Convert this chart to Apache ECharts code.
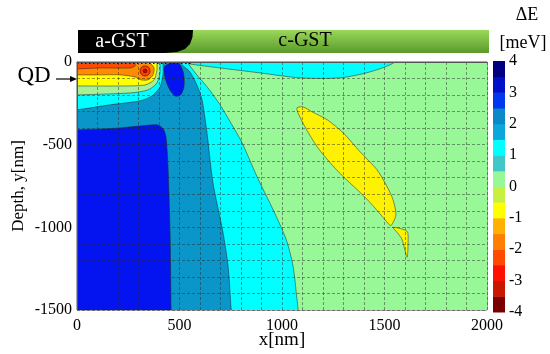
<!DOCTYPE html>
<html>
<head>
<meta charset="utf-8">
<script src="https://cdn.jsdelivr.net/npm/echarts@6/dist/echarts.min.js"></script>
<style>
  html, body { margin: 0; background: #fff; }
  #chart { width: 550px; height: 354px; }
</style>
</head>
<body>
<div id="chart"></div>
<script>
// contour regions, in nm (x, depth y); drawn back to front
const bgGreen = [[-100, 100], [2100, 100], [2100, -1600], [-100, -1600]];
const cyanMain = [[-100, 100], [1600, 100], [1551, 0], [1429, -60], [1283, -96], [1088, -96], [893, -66],
  [698, -36], [551, -12], [540, -4], [585, -78], [639, -157], [698, -259], [756, -380], [805, -488],
  [878, -693], [956, -892], [1020, -1072], [1054, -1235], [1073, -1434], [1078, -1494], [1080, -1600], [-100, -1600]];
const tealMain = [[-100, 100], [502, 100], [502, 0], [551, -60], [585, -139], [610, -229], [634, -428],
  [663, -729], [712, -1030], [737, -1235], [751, -1482], [755, -1600], [-100, -1600]];
const blueBlock = [[-100, -412], [0, -410], [200, -400], [390, -380], [420, -404], [434, -452], [444, -633],
  [454, -1030], [459, -1494], [460, -1600], [-100, -1600]];
const blueBlob = [[425, -30], [460, -8], [500, -14], [520, -70], [522, -150], [505, -200], [478, -205], [449, -160], [430, -96]];
const cyanBand = [[-100, 100], [425, 100], [420, 0], [420, -72], [405, -151], [366, -205], [307, -235],
  [161, -259], [0, -289], [-100, -295]];
const paleBand = [[-100, 100], [410, 100], [405, 0], [405, -60], [390, -127], [346, -169], [259, -187],
  [0, -199], [-100, -200]];
const yellowBand = [[-100, 100], [395, 100], [390, 0], [390, -48], [376, -108], [332, -139], [234, -145],
  [0, -145], [-100, -145]];
const orangeBand = [[-100, 100], [360, 100], [356, 0], [376, -36], [371, -78], [346, -108], [312, -108],
  [283, -90], [210, -78], [88, -78], [0, -78], [-100, -78]];
const redBand = [[-100, 100], [285, 100], [283, 0], [283, -24], [259, -36], [112, -36], [0, -42], [-100, -42]];
const yellowLeaf = [[1073, -277], [1102, -271], [1146, -301], [1220, -349], [1298, -428], [1380, -542],
  [1463, -651], [1512, -753], [1541, -831], [1556, -922], [1537, -982], [1527, -988], [1493, -940],
  [1429, -849], [1366, -771], [1298, -693], [1234, -608], [1171, -512], [1112, -392], [1078, -307]];
const yellowTail = [[1541, -1000], [1610, -1024], [1615, -1090], [1610, -1181], [1585, -1072], [1561, -1030]];
const qdPoint = [[332, -54]];
const surfaceDots = [[0, -8], [560, -8]];

// colour bar levels (meV)
const levelEdges = [-4, -3.5, -3, -2.5, -2, -1.5, -1, -0.5, 0, 0.5, 1, 1.5, 2, 2.5, 3, 3.5, 4];
const levelColors = ['#780000', '#c81800', '#ff1000', '#ff4a00', '#ff8000', '#ffb000', '#ffff00', '#c8f040',
  '#98f898', '#40c8c8', '#00ffff', '#0aa8d8', '#0a88c8', '#0038f0', '#0010c8', '#000080'];
const cbarTicks = [-4, -3, -2, -1, 0, 1, 2, 3, 4];
const xTicks = [0, 500, 1000, 1500, 2000];

const regions = [
  { pts: bgGreen, fill: '#98f898', stroke: false },
  { pts: cyanMain, fill: '#00ffff' },
  { pts: tealMain, fill: '#0a96c8' },
  { pts: blueBlock, fill: '#0414f0' },
  { pts: blueBlob, fill: '#0414f0' },
  { pts: cyanBand, fill: '#00ffff' },
  { pts: paleBand, fill: '#a8f098' },
  { pts: yellowBand, fill: '#ffff00' },
  { pts: orangeBand, fill: '#ff8c00' },
  { pts: redBand, fill: '#ff4a00' },
  { pts: yellowLeaf, fill: '#fff200' },
  { pts: yellowTail, fill: '#fff200' }
];

const serif = 'Liberation Serif';
const chart = echarts.init(document.getElementById('chart'));

const gridLine = { lineStyle: { color: 'rgba(40,40,40,0.6)', width: 0.8, type: [3, 2] } };

const option = {
  animation: false,
  backgroundColor: '#fff',
  grid: [
    { left: 77, top: 62, width: 410, height: 248, show: true, borderColor: '#555', borderWidth: 1,
      outerBoundsMode: 'none' },
    { left: 493, top: 61, width: 12, height: 251, outerBoundsMode: 'none' }
  ],
  xAxis: [
    {
      gridIndex: 0, type: 'value', min: 0, max: 2000, interval: 500, z: 5,
      name: 'x[nm]', nameLocation: 'middle', nameGap: 21, nameMoveOverlap: false,
      nameTextStyle: { fontFamily: serif, fontSize: 19, color: '#000' },
      axisLine: { lineStyle: { color: '#555' } },
      axisTick: { show: false },
      axisLabel: { fontFamily: serif, fontSize: 16, color: '#000', margin: 8,
        formatter: (v) => (xTicks.includes(v) ? String(v) : '') },
      splitLine: { show: true, ...gridLine },
      minorTick: { show: false, splitNumber: 5 },
      minorSplitLine: { show: true, ...gridLine }
    },
    { gridIndex: 1, type: 'value', min: 0, max: 1, show: false }
  ],
  yAxis: [
    {
      gridIndex: 0, type: 'value', min: -1500, max: 0, interval: 500, z: 5,
      name: 'Depth, y[nm]', nameLocation: 'middle', nameGap: 50, nameRotate: 90, nameMoveOverlap: false,
      nameTextStyle: { fontFamily: serif, fontSize: 17, color: '#000' },
      axisLine: { lineStyle: { color: '#555' } },
      axisTick: { show: false },
      axisLabel: { fontFamily: serif, fontSize: 16, color: '#000', margin: 5, formatter: (v) => String(v) },
      splitLine: { show: true, ...gridLine },
      minorTick: { show: false, splitNumber: 5 },
      minorSplitLine: { show: true, ...gridLine }
    },
    {
      gridIndex: 1, type: 'value', min: -4, max: 4, interval: 1, position: 'right',
      axisLine: { show: false }, axisTick: { show: false }, splitLine: { show: false },
      axisLabel: { fontFamily: serif, fontSize: 16, color: '#000', margin: 4,
        formatter: (v) => (cbarTicks.includes(v) ? String(v) : '') }
    }
  ],
  series: [
    {
      type: 'custom',
      xAxisIndex: 0, yAxisIndex: 0,
      clip: true,
      data: regions.map((r, i) => [i, 0]),
      renderItem: (params, api) => {
        const r = regions[api.value(0)];
        return {
          type: 'polygon',
          shape: { points: r.pts.map((p) => api.coord(p)), smooth: 0.25 },
          style: {
            fill: r.fill,
            stroke: r.stroke === false ? null : 'rgba(30,30,30,0.7)',
            lineWidth: 0.7
          }
        };
      },
      z: 2
    },
    {
      type: 'line',
      xAxisIndex: 0, yAxisIndex: 0,
      data: surfaceDots,
      symbol: 'none',
      lineStyle: { color: '#111', width: 1.6, type: [1.5, 2.5] },
      z: 3
    },
    {
      type: 'scatter',
      xAxisIndex: 0, yAxisIndex: 0,
      data: qdPoint,
      symbolSize: 10,
      itemStyle: { color: '#ff3000', borderColor: '#400', borderWidth: 0.8 },
      z: 4
    },
    {
      type: 'scatter',
      xAxisIndex: 0, yAxisIndex: 0,
      data: qdPoint,
      symbolSize: 4,
      itemStyle: { color: '#a00000', borderColor: '#300', borderWidth: 0.5 },
      z: 4
    },
    {
      type: 'custom',
      xAxisIndex: 1, yAxisIndex: 1,
      data: levelColors.map((c, i) => [i, 0]),
      renderItem: (params, api) => {
        const i = api.value(0);
        const p1 = api.coord([0, levelEdges[i + 1]]);
        const p2 = api.coord([1, levelEdges[i]]);
        return {
          type: 'rect',
          shape: { x: p1[0], y: p1[1], width: p2[0] - p1[0], height: p2[1] - p1[1] + 0.5 },
          style: { fill: levelColors[i] }
        };
      }
    }
  ],
  graphic: [
    {
      type: 'rect', z: 1,
      shape: { x: 150, y: 30, width: 339, height: 23 },
      style: {
        fill: {
          type: 'linear', x: 0, y: 0, x2: 0, y2: 1,
          colorStops: [
            { offset: 0, color: '#9ad85a' },
            { offset: 1, color: '#5a9a2a' }
          ]
        }
      }
    },
    {
      type: 'polygon', z: 2,
      shape: { points: [[78, 30], [193, 30], [192.5, 37], [190, 44], [185, 49], [177, 52], [165, 53], [78, 53]] },
      style: { fill: '#000' }
    },
    { type: 'text', x: 122, y: 42, z: 3,
      style: { text: 'a-GST', fill: '#fff', fontFamily: serif, fontSize: 20, align: 'center', verticalAlign: 'middle' } },
    { type: 'text', x: 305, y: 41, z: 3,
      style: { text: 'c-GST', fill: '#000', fontFamily: serif, fontSize: 20, align: 'center', verticalAlign: 'middle' } },
    { type: 'text', x: 527, y: 15,
      style: { text: 'ΔE', fill: '#000', fontFamily: serif, fontSize: 18, align: 'center', verticalAlign: 'middle' } },
    { type: 'text', x: 523, y: 43,
      style: { text: '[meV]', fill: '#000', fontFamily: serif, fontSize: 18, align: 'center', verticalAlign: 'middle' } },
    { type: 'text', x: 34, y: 76,
      style: { text: 'QD', fill: '#000', fontFamily: serif, fontSize: 23, align: 'center', verticalAlign: 'middle' } },
    { type: 'line', shape: { x1: 56, y1: 79, x2: 72, y2: 79 }, style: { stroke: '#000', lineWidth: 1.2 } },
    { type: 'polygon', shape: { points: [[77, 79], [70, 76], [70, 82]] }, style: { fill: '#000' } }
  ]
};

chart.setOption(option);
</script>
</body>
</html>
